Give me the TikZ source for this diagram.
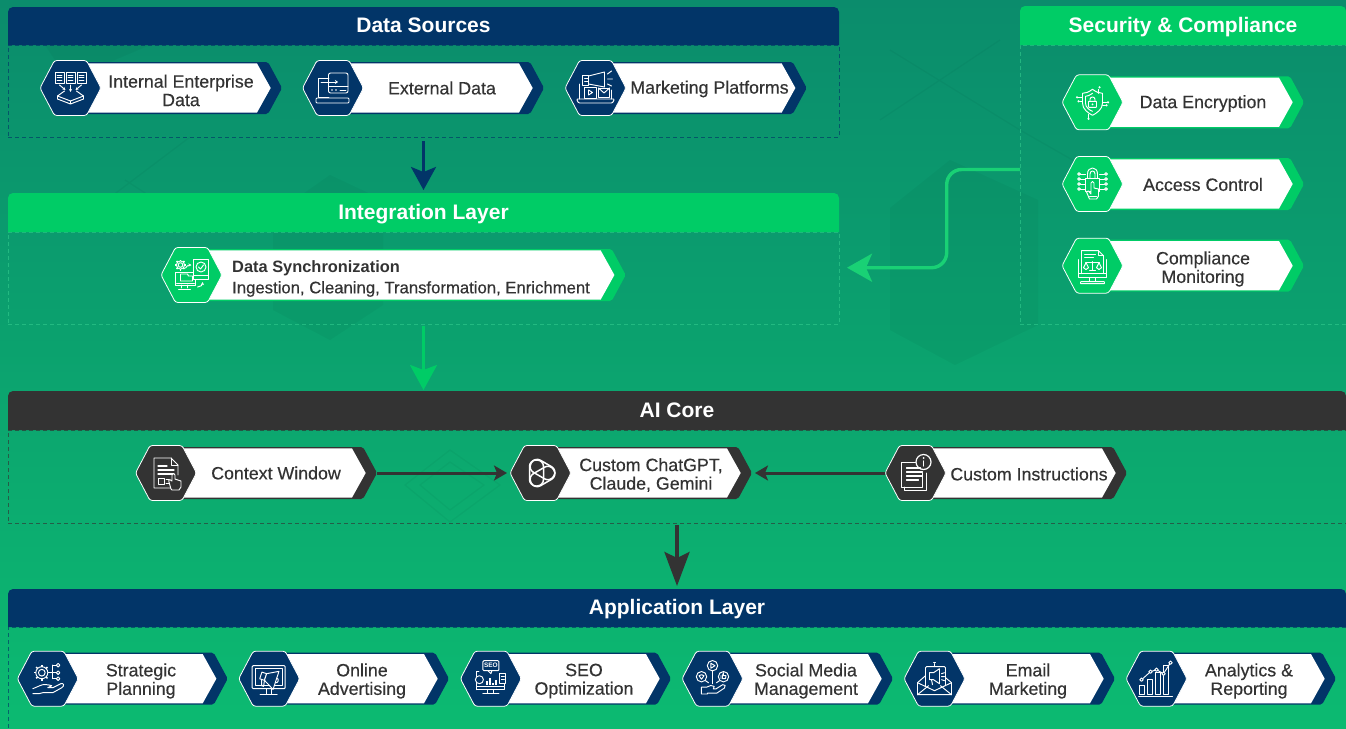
\documentclass[tikz,border=0pt]{standalone}
\usepackage{fontspec}
\setmainfont{Liberation Sans}
\newfontfamily\medf[FakeBold=0.4]{Liberation Sans}
\usetikzlibrary{arrows.meta}
\definecolor{bgtop}{HTML}{0B8C6C}
\definecolor{bgbot}{HTML}{0CBA71}
\definecolor{navy}{HTML}{023568}
\definecolor{lime}{HTML}{00CC66}
\definecolor{coal}{HTML}{333333}
\definecolor{limedash}{HTML}{30C98C}
\definecolor{txt}{HTML}{333333}
\tikzset{
 x=1pt,y=-1pt,
 headtext/.style={text=white,font=\bfseries\fontsize{21}{24}\selectfont,inner sep=0,outer sep=0,text height=16pt,text depth=3pt},
 framebox/.style={dash pattern=on 4pt off 3pt,line width=.65pt,draw opacity=.65,inner sep=0,outer sep=0},
 hitbox/.style={inner sep=0,outer sep=0},
 cardtext/.style={text=txt,font=\medf\fontsize{17.8}{18.5}\selectfont,align=center,inner sep=0},
 icn/.style={color=white,line width=.95pt,line join=round,line cap=round},
 bigarrow/.style={line width=3pt},
 faint/.style={fill=black,fill opacity=.03},
 faintline/.style={draw=black,draw opacity=.035,line width=1.2pt},
}
% name x1 y1 x2 y2 y3 colour dashcolour title
\newcommand\mypanel[9]{%
 \node[framebox,draw=#8,minimum width={(#4-#2)*1pt},minimum height={(#6-#5)*1pt}] (#1) at ({(#2+#4)/2},{(#5+#6)/2}) {};
 \fill[#7] (#2,#5) [rounded corners=5pt] -- (#2,#3) -- (#4,#3) [sharp corners] -- (#4,#5) -- cycle;
 \node[headtext,minimum width={(#4-#2)*1pt},minimum height={(#5-#3)*1pt}] (#1head) at ({(#2+#4)/2},{(#3+#5)/2}) {#9};
}
% name x0 cy tip colour icon
\newcommand\mycard[6]{%
 \fill[#5,rounded corners=2pt] (#2+28,#3-26) -- (#4-14,#3-26) -- (#4,#3) -- (#4-14,#3+26) -- (#2+28,#3+26) -- cycle;
 \fill[white] (#2+28,#3-24.6) -- (#4-25,#3-24.6) -- (#4-11.3,#3) -- (#4-25,#3+24.6) -- (#2+28,#3+24.6) -- cycle;
 \draw[white,fill=#5,line width=.8pt,rounded corners=2.5pt] (#2,#3) -- (#2+14.5,#3-27.5) -- (#2+46.5,#3-27.5) -- (#2+61,#3) -- (#2+46.5,#3+27.5) -- (#2+14.5,#3+27.5) -- cycle;
 \node[hitbox,minimum width={(#4-#2)*1pt},minimum height=55pt] (#1) at ({(#2+#4)/2},#3) {};
 \begin{scope}[shift={({#2+30.5},#3)},icn] #6 \end{scope}
}
\newcommand\gearic[3]{%
 \draw (#1,#2) circle ({#3*.42});
 \draw (#1,#2) circle ({#3*.75});
 \foreach \a in {0,45,...,315}{\draw[line width=1.5pt,line cap=butt] ([shift={(#1,#2)}]\a:{#3*.75}) -- ([shift={(#1,#2)}]\a:#3);}
}
\newcommand\handic[2]{%
 \draw (#1-15,#2+3) -- (#1-8,#2) .. controls (#1-4,#2-2) and (#1,#2-1) .. (#1+4,#2) -- (#1+0,#2+2) -- (#1+5,#2+2) -- (#1+13,#2-2) .. controls (#1+16,#2-3) and (#1+17,#2) .. (#1+14,#2+2) -- (#1+5,#2+7) -- (#1-5,#2+7) -- (#1-9,#2+8) -- (#1-15,#2+8);
}
\newcommand\icA{%
 \foreach \x in {-11,0,11}{\draw (\x-4.5,-16) rectangle (\x+4.5,-5); \draw (\x-2.5,-13)--(\x+2.5,-13) (\x-2.5,-10.5)--(\x+2.5,-10.5) (\x-2.5,-8)--(\x+2.5,-8);}
 \draw[-{Stealth[length=3pt,width=3pt]}] (-11,-3)--(-5,2);
 \draw[-{Stealth[length=3pt,width=3pt]}] (0,-3)--(0,4);
 \draw[-{Stealth[length=3pt,width=3pt]}] (11,-3)--(5,2);
 \draw (-6,3)--(-13,8)--(0,13)--(13,8)--(6,3);
 \draw (-13,8)--(-13,11)--(0,16)--(13,11)--(13,8) (0,13)--(0,16);
}
\newcommand\icB{%
 \draw (-4,-10)--(-14.5,-10)--(-14.5,9) (-14.5,9)--(-4,9);
 \draw[rounded corners=1pt] (-17,10)--(16,10)--(16,15)--(-17,15)--cycle;
 \draw[rounded corners=2pt] (-4.5,5)--(-4.5,-15)--(15,-15)--(15,5)--cycle;
 \draw (-4.5,-2)--(15,-2);
 \draw[-{Stealth[length=3pt,width=4pt]}] (-12,-6)--(5,-6);
 \fill (-1,2) circle (.8);\fill (3,2) circle (.8);\draw (7,2)--(13,2);
}
\newcommand\icC{%
 \draw (-16,-4)--(-16,11) (16,2)--(16,11);
 \draw[rounded corners=1pt] (-19,11)--(19,11)--(17,15)--(-17,15)--cycle;
 \draw (-13,-13) rectangle (-7,-3);
 \draw (-7,-12)--(9,-16)--(9,-1)--(-7,-4)--cycle;
 \draw (-11,-10)--(-7,-10) (-11,-7)--(-7,-7);
 \draw (12,-14)--(16,-17) (12,-9)--(17,-9) (12,-4)--(16,-2);
 \draw[fill=navy] (-11,-1) rectangle (1,10);
 \draw (-7,2)--(-7,7)--(-3,4.5)--cycle;
 \draw[fill=navy] (3,0) rectangle (14,9);
 \draw (3,0)--(8.5,5)--(14,0);
}
\newcommand\icD{%
 \draw (0,-13) .. controls (-4,-10) and (-7,-9) .. (-10,-9) -- (-10,1) .. controls (-10,7) and (-4,11) .. (0,13) .. controls (4,11) and (10,7) .. (10,1) -- (10,-9) .. controls (7,-9) and (4,-10) .. (0,-13) -- cycle;
 \draw (0,-9) .. controls (-3,-7) and (-5,-6) .. (-7,-6) -- (-7,1) .. controls (-7,5) and (-3,8) .. (0,9);
 \draw[rounded corners=.5pt] (-4,-1) rectangle (4,5);
 \draw (-2.5,-1) -- (-2.5,-3) .. controls (-2.5,-6) and (2.5,-6) .. (2.5,-3) -- (2.5,-1);
 \fill (0,2) circle (1);
 \draw (6,-13)--(6,-9) (-15,-5)--(-10,-5) (-13,-1)--(-10,-1) (10,0)--(15,0) (10,3)--(13,3) (-4,12)--(-4,16);
 \foreach \p in {(7,-15),(-15.5,-5),(-14,-1),(15.5,0),(14,3),(-4,16.5)}{\fill \p circle (1.2);}
}
\newcommand\icE{%
 \draw (-7,-6) rectangle (7,7);
 \draw (-5,-6) -- (-5,-10) .. controls (-5,-18) and (5,-18) .. (5,-10) -- (5,-6);
 \draw (-2.5,-6) -- (-2.5,-10) .. controls (-2.5,-14) and (2.5,-14) .. (2.5,-10) -- (2.5,-6);
 \foreach \y in {-10,-5,0,5}{\draw (-7,\y)--(-12,\y) (7,\y)--(12,\y); \draw (-13.5,\y) circle (1.4); \draw (13.5,\y) circle (1.4);}
 \draw[fill=lime] (-1.5,10) -- (-1.5,-1) .. controls (-1.5,-3) and (1.5,-3) .. (1.5,-1) -- (1.5,4) -- (6,5) -- (6,12) -- (4,15) -- (-3,15) -- (-6,8) -- (-4,7) -- cycle;
 \draw (-3,12)--(4,12);
}
\newcommand\icF{%
 \draw (-14,-6)--(-14,12)--(14,12)--(14,-6);
 \draw (-14,8)--(14,8);
 \draw (-3,12)--(-3,15) (3,12)--(3,15);
 \draw[rounded corners=.5pt] (-12,16) rectangle (12,18);
 \draw (-11,8)--(-11,-15)--(6,-15)--(11,-10)--(11,8);
 \draw (6,-15)--(6,-10)--(11,-10);
 \draw (-8,-11)--(3,-11) (-8,-8)--(1,-8);
 \draw (0,-4)--(0,4) (-3,5)--(3,5) (-7,-3)--(7,-3);
 \draw (-9,2) -- (-6.5,-3) -- (-4,2) .. controls (-5,4.5) and (-8,4.5) .. (-9,2);
 \draw (4,2) -- (6.5,-3) -- (9,2) .. controls (8,4.5) and (5,4.5) .. (4,2);
}
\newcommand\icG{%
 \gearic{-11}{-10}{5.5}
 \draw (-16,-3) rectangle (4,10);
 \draw (-4,13) -- (-4,10) (-10,10) -- (-10,13) (-13,14) -- (-1,14);
 \draw (-15,8)--(3,8);
 \draw (-11,-1)--(-4,-1)--(-3,1)--(1,1)--(1,6)--(-11,6)--cycle;
 \draw[fill=lime] (2,-16) rectangle (17,4);
 \draw (2,0)--(17,0);
 \draw (9.5,-8) circle (5);
 \draw (7,-8)--(9,-6)--(12,-10);
 \draw[-{Stealth[length=3pt,width=3pt]}] (-6,-7) .. controls (-4,-10) and (-2,-10) .. (0,-10);
 \draw[-{Stealth[length=3pt,width=3pt]}] (6,12) .. controls (9,12) and (11,10) .. (11,7);
}
\newcommand\icH{%
 \draw (5,15)--(-12,15)--(-12,-15)--(5,-15)--(12,-8)--(12,2);
 \draw (5,-15)--(5,-8)--(12,-8);
 \draw[line width=1.2pt] (-8,-7)--(1,-7) (-8,-3)--(8,-3) (-8,1)--(8,1);
 \draw (-8,5) rectangle (-2,11);
 \draw (0,6)--(3,6) (0,10)--(3,10);
 \draw[fill=coal] (5,16) -- (3,9) .. controls (2,6) and (5,6) .. (6,8) -- (6,2) .. controls (6,0) and (9,0) .. (9,2) -- (9,6) -- (15,8) -- (15,14) -- (13,17) -- (6,17) -- cycle;
}
\newcommand\icI{%
 \foreach \a in {30,150,270}{\draw[line width=1.5pt,rotate=\a,rounded corners=6.5pt] (-13,-3) rectangle (13,11);}
}
\newcommand\icJ{%
 \draw (-9,-11)--(-14,-11)--(-14,14)--(7,14)--(7,9);
 \draw (-11,14)--(-11,17)--(11,17)--(11,0);
 \draw[line width=1.1pt] (-9,-5)--(5,-5) (-9,-1)--(7,-1) (-9,3)--(7,3) (-9,7)--(3,7);
 \draw (7,9)--(7,0);
 \draw (-9,-11)--(0,-11);
 \draw[line width=1.2pt] (8,-11) circle (7.5);
 \fill (8,-15) circle (1);
 \draw[line width=1.4pt] (8,-12)--(8,-7);
}
\newcommand\icK{%
 \gearic{-6}{-6}{8}
 \draw (2,-6)--(5,-6) (5,-13.5)--(5,0) (5,-13.5)--(8.5,-13.5) (5,0)--(8.5,0) (5,-6)--(8.5,-6);
 \foreach \y in {-13.5,-6,0}{\draw (10.3,\y) circle (1.8);}
 \handic{0}{7}
}
\newcommand\icL{%
 \draw[line width=1pt,rounded corners=1pt] (-17,-13) rectangle (16,10);
 \draw (-14,-10) rectangle (13,7);
 \draw (-3,10)--(-3,15) (2,10)--(2,15) (-9,16)--(8,16);
 \begin{scope}[rotate=-18]
 \draw[fill=navy] (-9,-4) rectangle (-4,3);
 \draw[fill=navy] (-4,-4)--(7,-10)--(7,9)--(-4,3)--cycle;
 \draw (-7,3)--(-5,9)--(-3,9)--(-4,3);
 \draw (7,-3) .. controls (10,-3) and (10,2) .. (7,2);
 \end{scope}
}
\newcommand\icM{%
 \draw (-12,-7)--(-14,-7)--(-14,8)--(14,8)--(14,-2);
 \draw (-14,11)--(14,11)--(14,8) (-14,8)--(-14,11);
 \draw (-3,11)--(-3,14) (3,11)--(3,14) (-8,15)--(8,15);
 \draw[rounded corners=1pt] (-8,-18) rectangle (8,-8);
 \node[hitbox,text=white,font=\bfseries\fontsize{6.5}{7}\selectfont] (seotag) at (0,-13) {SEO};
 \draw (-3,-8)--(0,-5)--(1,-8);
 \draw[fill=navy] (-11.5,1) circle (4);
 \foreach \x/\h in {-4/4,-1/7,2/2,5/5}{\draw[line width=1.4pt,line cap=butt] (\x,6)--(\x,6-\h);}
 \draw[fill=navy] (9,-5) rectangle (15,5);
 \draw (10.5,-2)--(13.5,-2) (10.5,1)--(13.5,1);
}
\newcommand\icN{%
 \draw (0,-13) circle (5.2);
 \draw (-1.7,-15.5)--(-1.7,-10.5)--(2.5,-13)--cycle;
 \draw (-11,-2) circle (5.2);
 \draw (-13.5,-3)--(-11,0.5)--(-8.5,-3)--(-11,-4)--cycle;
 \draw (11,-2) circle (5.2);
 \draw (8.5,0)--(8.5,-3) (10,0)--(13,0)--(13.5,-3)--(11,-3)--(11,-6)--(10,-3)--(10,0);
 \draw (0,-8)--(0,5) (-7,2)--(-4,4) (7,2)--(4,4);
 \draw[scale=.85] (-6,18) -- (-13,18) -- (-13,10) -- (-7,10) -- (-2,8) -- (2,9) -- (1,12) -- (4,12) -- (12,7) .. controls (15,6) and (16,9) .. (14,11) -- (5,17) -- (-6,17);
}
\newcommand\icO{%
 \begin{scope}[xshift=2pt]
 \draw (-11,-3)--(-19,4)--(-19,16)--(15,16)--(15,4)--(9,-1);
 \draw (-19,4)--(-2,12)--(15,4);
 \draw (-19,16)--(-8,7) (15,16)--(4,7);
 \draw[rounded corners=1pt] (-11,8)--(-11,-12)--(9,-12)--(9,6);
 \draw (-2,-12)--(-2,-15) (-3,-16)--(-1,-16);
 \draw (-7,-6)--(-7,1)--(-3,1)--(3,5)--(3,-10)--(-3,-6)--cycle;
 \draw (-5,1)--(-4,6);
 \draw (5,-5)--(8,-6) (5,-2)--(8,-2) (5,1)--(8,2);
 \end{scope}
}
\newcommand\icP{%
 \foreach \x/\h in {-15/9,-7/15,1/22,9/29}{\draw (\x-2.5,16) rectangle (\x+2.5,16-\h);}
 \draw (-18,17.5)--(16,17.5);
 \draw (-15,1)--(-6,-7)--(0,-9)--(7,-5)--(14,-16);
 \foreach \p in {(-15,1),(-6,-7),(0,-9),(7,-5),(14,-16)}{\draw[fill=navy] \p circle (1.7);}
}
\begin{document}
\begin{tikzpicture}
\useasboundingbox (0,0) rectangle (1346,728);
\shade[top color=bgtop,bottom color=bgbot] (0,0) rectangle (1346,728);
% faint backdrop
\fill[faint] (890,208) -- (890,330) -- (955,365) -- (1038,325) -- (1038,200) -- (950,160) -- cycle;
\fill[faint] (273,215) -- (330,175) -- (383,200) -- (383,305) -- (330,340) -- (273,310) -- cycle;
\fill[faint] (45,45) -- (150,45) -- (110,62) -- (55,60) -- cycle;
\draw[faintline] (890,50) -- (1020,130) (1020,130) -- (1090,170) (880,120) -- (1000,40) (100,205) -- (190,137) (125,180) -- (190,222);
\draw[faintline] (450,450) -- (500,485) -- (450,522) -- (405,485) -- cycle (450,462) -- (484,485) -- (450,510) -- (420,485) -- cycle;
% panels
\mypanel{srcbox}{8}{7}{839}{45}{137}{navy}{navy}{Data Sources}
\mypanel{intbox}{8}{193}{839}{232}{324}{lime}{limedash}{Integration Layer}
\mypanel{secbox}{1020}{6}{1346}{45}{324}{lime}{limedash}{Security \& Compliance}
\mypanel{corebox}{8}{391}{1346}{430}{523}{coal}{coal}{AI Core}
\mypanel{appbox}{8}{589}{1346}{627}{731}{navy}{navy}{Application Layer}
% connectors between panels
\draw[navy,bigarrow,-{Stealth[length=23pt,width=25pt,inset=5pt]},shorten <=4pt,shorten >=3pt] (srcbox.south) -- (intboxhead.north);
\draw[lime,bigarrow,-{Stealth[length=25pt,width=27pt,inset=5pt]},shorten <=2pt,shorten >=1pt] (intbox.south) -- (intbox.south |- coreboxhead.north);
\draw[coal,line width=4pt,-{Stealth[length=34pt,width=25pt,inset=6pt]},shorten <=2pt,shorten >=3pt] (corebox.south) -- (appboxhead.north);
\coordinate (secout) at (1020,169.5);
\coordinate (secin) at (839,267.7);
\draw[lime!90!white,line width=3.4pt,rounded corners=15pt,-{Stealth[length=25pt,width=28pt,inset=6pt]},shorten >=8pt] (secout) -- (946.7,169.5) -- (946.7,267.7) -- (secin);
% cards
\mycard{internal}{40}{88}{282}{navy}{\icA}
\mycard{external}{302.5}{88}{544}{navy}{\icB}
\mycard{marketing}{565}{88}{806.7}{navy}{\icC}
\mycard{encrypt}{1062}{102.3}{1304}{lime}{\icD}
\mycard{access}{1062}{184}{1304}{lime}{\icE}
\mycard{monitor}{1062}{265.7}{1304}{lime}{\icF}
\mycard{sync}{161}{275}{625.7}{lime}{\icG}
\mycard{context}{135.5}{473}{377}{coal}{\icH}
\mycard{llm}{510}{473}{752}{coal}{\icI}
\mycard{instr}{885}{473}{1127}{coal}{\icJ}
\mycard{strategy}{17.3}{678.7}{227.7}{navy}{\icK}
\mycard{online}{238.7}{678.7}{449}{navy}{\icL}
\mycard{seo}{460.4}{678.7}{671}{navy}{\icM}
\mycard{social}{682}{678.7}{893}{navy}{\icN}
\mycard{email}{904}{678.7}{1115}{navy}{\icO}
\mycard{analytics}{1126}{678.7}{1336}{navy}{\icP}
% connectors in the core
\draw[coal,line width=3pt,-{Stealth[length=13pt,width=15pt,inset=3pt]},shorten >=3pt] (context.east) -- (llm.west);
\draw[coal,line width=3pt,-{Stealth[length=13pt,width=15pt,inset=3pt]},shorten >=3pt] (instr.west) -- (llm.east);
% card labels
\node[cardtext] (t1) at (181,90.5) {Internal Enterprise\\Data};
\node[cardtext] (t2) at (442,88) {External Data};
\node[cardtext] (t3) at (709.5,89) {Marketing Platforms};
\node[cardtext] (t4) at (1203,103.5) {Data Encryption};
\node[cardtext] (t5) at (1203,184.5) {Access Control};
\node[cardtext] (t6) at (1203,269) {Compliance\\Monitoring};
\node[cardtext,anchor=west,font=\bfseries\fontsize{16.4}{20}\selectfont] (t7a) at (232,268) {Data Synchronization};
\node[cardtext,anchor=west,font=\medf\fontsize{16.7}{20}\selectfont] (t7b) at (232,289) {Ingestion, Cleaning, Transformation, Enrichment};
\node[cardtext] (t8) at (276,473) {Context Window};
\node[cardtext] (t9) at (651,475) {Custom ChatGPT,\\Claude, Gemini};
\node[cardtext] (t10) at (1029,474) {Custom Instructions};
\node[cardtext] (t11) at (141,681) {Strategic\\Planning};
\node[cardtext] (t12) at (362,681) {Online\\Advertising};
\node[cardtext] (t13) at (584,681) {SEO\\Optimization};
\node[cardtext] (t14) at (806,681) {Social Media\\Management};
\node[cardtext] (t15) at (1028,681) {Email\\Marketing};
\node[cardtext] (t16) at (1249,681) {Analytics \&\\Reporting};
\end{tikzpicture}
\end{document}
